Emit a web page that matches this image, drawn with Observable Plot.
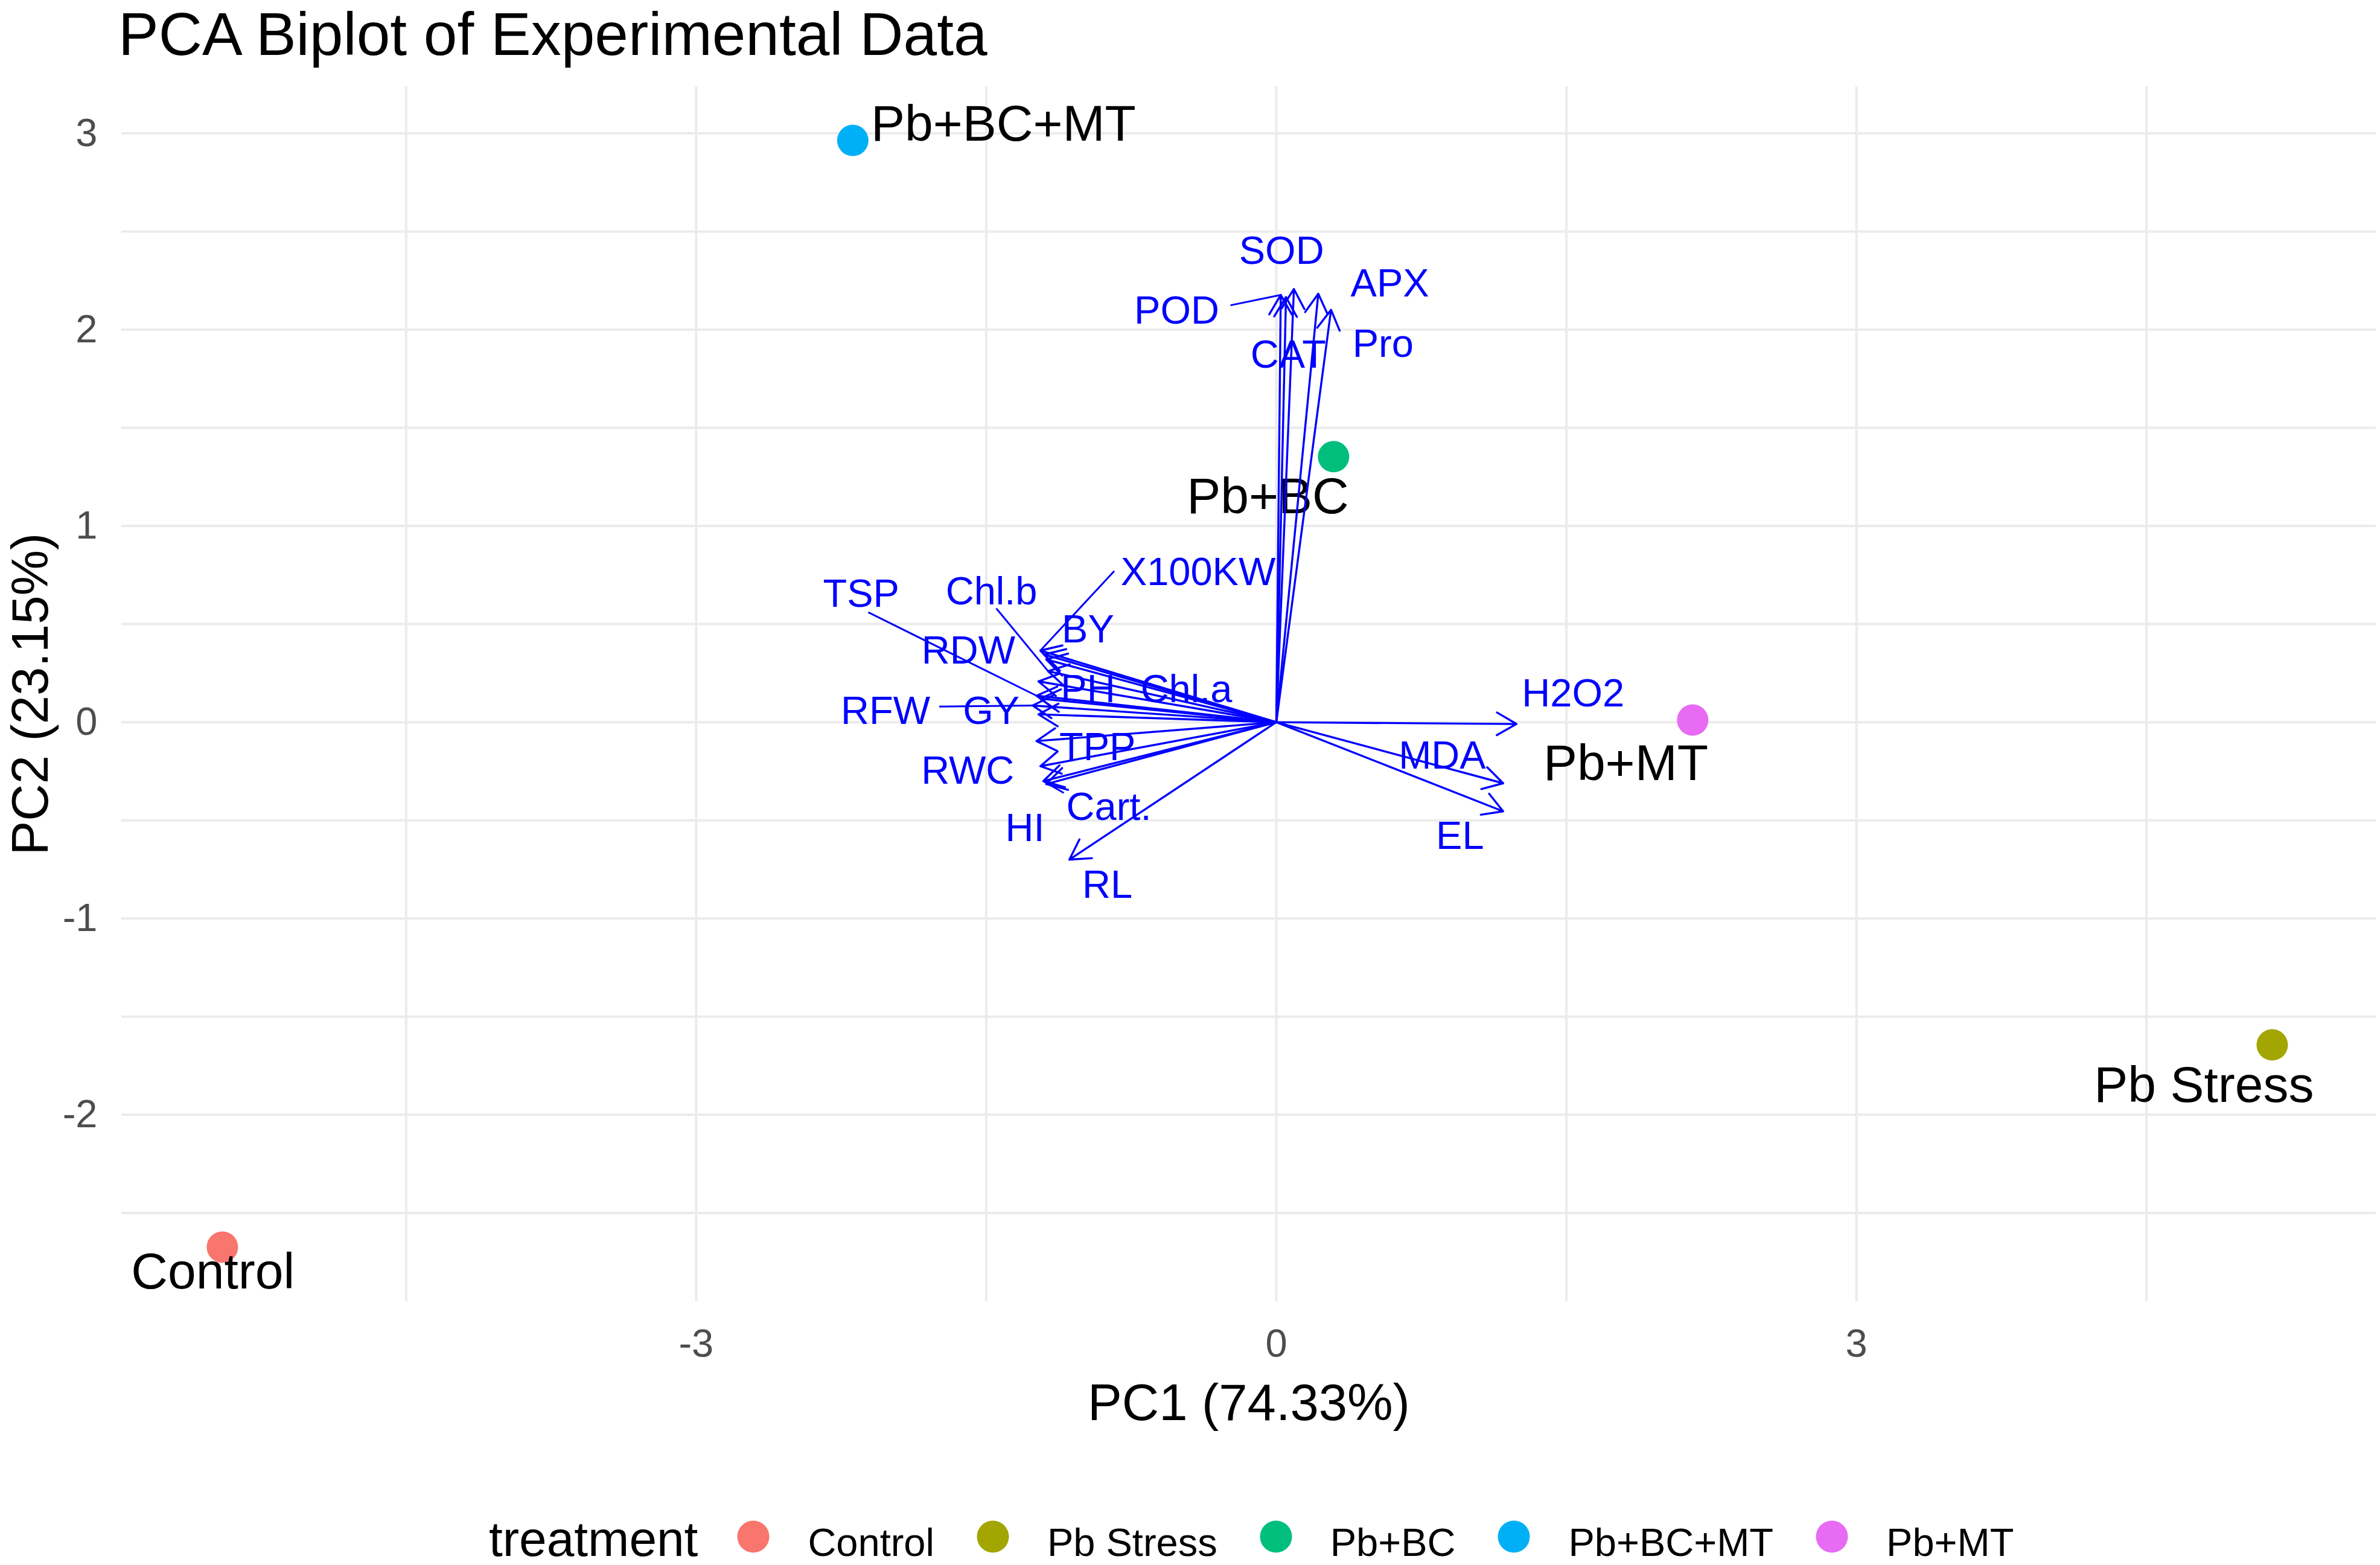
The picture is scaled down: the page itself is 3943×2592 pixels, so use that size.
<!DOCTYPE html>
<html>
<head>
<meta charset="utf-8">
<script src="https://cdn.jsdelivr.net/npm/d3@7"></script>
<script src="https://cdn.jsdelivr.net/npm/@observablehq/plot@0.6"></script>
<style>
  html, body { margin: 0; padding: 0; background: #ffffff; }
  body { font-family: "Liberation Sans", Arial, sans-serif; }
  #wrap { position: relative; width: 3943px; height: 2592px; overflow: hidden; background: #ffffff; }
  #title { position: absolute; left: 196px; top: 0px; font-size: 100px; line-height: 113px; white-space: nowrap; color: #000; }
  #chart { position: absolute; left: 0; top: 120px; width: 3943px; }
  #chart figure { margin: 0; }
  .pca-swatches { margin: 0 !important; height: 122px; box-sizing: border-box; padding-top: 47px; padding-left: 810px;
    font-family: "Liberation Sans", Arial, sans-serif !important; font-size: 65px !important; color: #000;
    display: flex !important; align-items: center !important; flex-wrap: nowrap !important; min-height: 0 !important; }
  .pca-swatch { margin-right: 69px !important; display: inline-flex; align-items: center; }
  .pca-swatch > svg { margin-right: 62px !important; position: relative; top: -10px; overflow: visible; }
  .legtitle { font-size: 82px; margin-right: 64px; position: relative; top: -6px; white-space: nowrap; }
</style>
</head>
<body>
<div id="wrap">
  <div id="title"></div>
  <div id="chart"></div>
</div>
<script>
// ---------- text ----------
const titleText = "PCA Biplot of Experimental Data";
const xLabelText = "PC1 (74.33%)";
const yLabelText = "PC2 (23.15%)";
const legendTitleText = "treatment";

// ---------- sample scores ----------
const treatments = ["Control", "Pb Stress", "Pb+BC", "Pb+BC+MT", "Pb+MT"];
const treatmentColors = ["#F8766D", "#A3A500", "#00BF7D", "#00B0F6", "#E76BF3"];
const scorePC1 = [-5.45, 5.15, 0.296, -2.19, 2.153];
const scorePC2 = [-2.674, -1.644, 1.353, 2.964, 0.011];
const scoreLabelX = [-5.499, 4.797, -0.044, -1.411, 1.807];
const scoreLabelY = [-2.803, -1.853, 1.149, 3.044, -0.213];

// ---------- variable loadings (arrows) ----------
const variables = ["SOD", "POD", "CAT", "APX", "Pro", "H2O2", "MDA", "EL",
  "X100KW", "BY", "RDW", "Chl.b", "PH", "TSP", "Chl.a", "RFW", "GY", "TPP", "RWC", "Cart.", "HI", "RL"];
const loadPC1 = [0.091, 0.023, 0.050, 0.217, 0.283, 1.242, 1.173, 1.173,
  -1.220, -1.200, -1.190, -1.180, -1.230, -1.240, -1.220, -1.260, -1.230, -1.240, -1.220, -1.205, -1.190, -1.070];
const loadPC2 = [2.207, 2.177, 2.166, 2.183, 2.101, -0.009, -0.311, -0.454,
  0.365, 0.345, 0.320, 0.260, 0.208, 0.135, 0.120, 0.085, 0.040, -0.096, -0.224, -0.300, -0.315, -0.700];
const varLabelX = [0.027, -0.515, 0.062, 0.587, 0.552, 1.535, 0.858, 0.950,
  -0.404, -0.974, -1.592, -1.473, -0.974, -2.147, -0.465, -2.021, -1.474, -0.925, -1.596, -0.866, -1.300, -0.874];
const varLabelY = [2.399, 2.095, 1.871, 2.234, 1.927, 0.144, -0.172, -0.583,
  0.762, 0.472, 0.363, 0.665, 0.166, 0.651, 0.166, 0.054, 0.054, -0.129, -0.248, -0.434, -0.543, -0.832];

// label leader lines (label side start -> arrow tip)
const leaderVars = ["POD", "TSP", "Chl.b", "X100KW", "RFW", "Cart."];
const leaderStartX = [-0.237, -2.110, -1.448, -0.838, -1.743, -1.099];
const leaderStartY = [2.124, 0.560, 0.580, 0.770, 0.080, -0.360];

// ---------- axes ----------
const xMajorTicks = [-3, 0, 3];
const xMinorTicks = [-4.5, -1.5, 1.5, 4.5];
const yMajorTicks = [-2, -1, 0, 1, 2, 3];
const yMinorTicks = [-2.5, -1.5, -0.5, 0.5, 1.5, 2.5];
const xRange = [-5.971, 5.687];
const yRange = [-2.951, 3.238];

// ---------- tables ----------
const scores = treatments.map((t, i) => ({treatment: t, pc1: scorePC1[i], pc2: scorePC2[i], lx: scoreLabelX[i], ly: scoreLabelY[i]}));
const loadings = variables.map((v, i) => ({name: v, pc1: loadPC1[i], pc2: loadPC2[i], lx: varLabelX[i], ly: varLabelY[i]}));
const leaders = leaderVars.map((v, i) => {
  const l = loadings.find(d => d.name === v);
  return {name: v, sx: leaderStartX[i], sy: leaderStartY[i], tx: l.pc1, ty: l.pc2};
});

document.getElementById("title").textContent = titleText;

const FONT = "Liberation Sans, Arial, sans-serif";
const W = 3943, H = 2350, TOP = 120;
const gridStyle = {stroke: "#EBEBEB", strokeOpacity: 1, strokeWidth: 4};
const fmt = d => String(d);

const chart = Plot.plot({
  className: "pca",
  width: W,
  height: H,
  marginTop: 143 - TOP,
  marginBottom: TOP + H - 2155,
  marginLeft: 201,
  marginRight: 7,
  style: {fontFamily: FONT, background: "transparent", color: "black"},
  x: {domain: xRange},
  y: {domain: yRange},
  color: {domain: treatments, range: treatmentColors},
  symbol: {domain: treatments, range: treatments.map(() => "circle"), legend: true, swatchSize: 56, r: 7.57},
  marks: [
    Plot.gridX(xMinorTicks, gridStyle),
    Plot.gridY(yMinorTicks, gridStyle),
    Plot.gridX(xMajorTicks, gridStyle),
    Plot.gridY(yMajorTicks, gridStyle),
    Plot.axisX(xMajorTicks, {tickSize: 0, tickPadding: 45, fontSize: 65, color: "#4D4D4D", label: null, tickFormat: fmt}),
    Plot.axisY(yMajorTicks, {tickSize: 0, tickPadding: 40, fontSize: 65, color: "#4D4D4D", label: null, tickFormat: fmt}),
    Plot.text([xLabelText], {text: d => d, frameAnchor: "bottom", dy: 136, lineAnchor: "top", textAnchor: "middle", fontSize: 85, fill: "black"}),
    Plot.text([yLabelText], {text: d => d, frameAnchor: "left", dx: -150, rotate: -90, lineAnchor: "middle", textAnchor: "middle", fontSize: 85, fill: "black"}),
    Plot.dot(scores, {x: "pc1", y: "pc2", fill: "treatment", symbol: "treatment", r: 26}),
    Plot.text(scores, {x: "lx", y: "ly", text: "treatment", fontSize: 84, fill: "black"}),
    Plot.arrow(loadings, {x1: () => 0, y1: () => 0, x2: "pc1", y2: "pc2", stroke: "blue", strokeWidth: 3.4, headLength: 16.5, headAngle: 60}),
    Plot.link(leaders, {x1: "sx", y1: "sy", x2: "tx", y2: "ty", stroke: "blue", strokeWidth: 3}),
    Plot.text(loadings, {x: "lx", y: "ly", text: "name", fontSize: 65, fill: "blue"})
  ]
});

document.getElementById("chart").appendChild(chart);
const leg = chart.querySelector ? chart.querySelector(".pca-swatches") : null;
if (leg) {
  const t = document.createElement("span");
  t.className = "legtitle";
  t.textContent = legendTitleText;
  const firstSwatch = leg.querySelector(".pca-swatch");
  leg.insertBefore(t, firstSwatch);
  chart.appendChild(leg);
}
</script>
</body>
</html>
